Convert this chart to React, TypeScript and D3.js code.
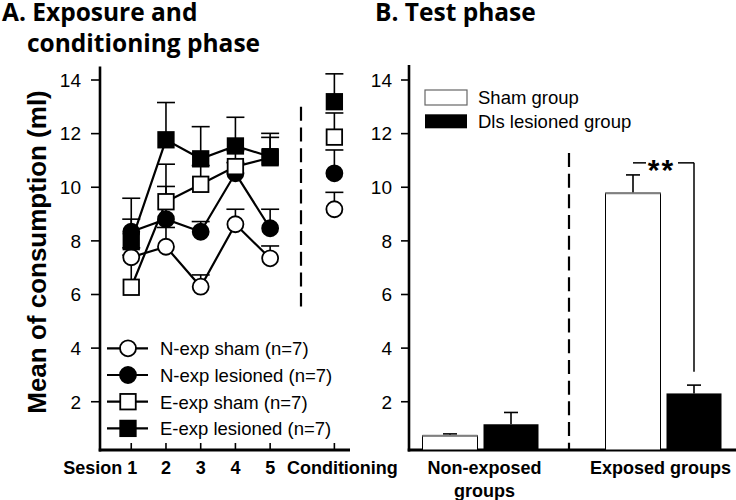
import React from "react";
import * as d3 from "d3";

// ---- Data ----
const sessionLabels = ["Sesion 1", "2", "3", "4", "5", "Conditioning"];
const sessionPos = [1, 2, 3, 4, 5, 6.85];

const nExpSham = [7.39, 7.78, 6.29, 8.62, 7.35, 9.18];
const nExpShamErr = [0.35, 0.72, 0.44, 0.56, 0.46, 0.63];
const nExpLes = [8.34, 8.81, 8.34, 10.52, 8.47, 10.52];
const nExpLesErr = [0.47, 1.22, 0.38, 0.4, 0.71, 0.87];
const eExpSham = [6.27, 9.46, 10.11, 10.77, 11.1, 11.87];
const eExpShamErr = [1.2, 1.4, 0.7, 0.6, 0.76, 0.9];
const eExpLes = [7.97, 11.77, 11.06, 11.54, 11.14, 13.19];
const eExpLesErr = [1.62, 1.39, 1.2, 1.07, 0.87, 1.04];

const seriesNames = [
  "N-exp sham (n=7)",
  "N-exp lesioned (n=7)",
  "E-exp sham (n=7)",
  "E-exp lesioned (n=7)",
];

const groups = ["Non-exposed groups", "Exposed groups"];
const groupLines = [["Non-exposed", "groups"], ["Exposed groups"]];
const shamMeans = [0.73, 9.78];
const shamErr = [0.07, 0.68];
const lesMeans = [1.16, 2.31];
const lesErr = [0.44, 0.31];
const barLegend = ["Sham group", "Dls lesioned group"];

const yTicks = [2, 4, 6, 8, 10, 12, 14];

const FONT = "'Liberation Sans', Arial, sans-serif";
const TITLE_FONT = "'Open Sans', sans-serif";

type Series = {
  name: string;
  vals: number[];
  err: number[];
  shape: "circle" | "square";
  fill: string;
};

const series: Series[] = [
  { name: seriesNames[0], vals: nExpSham, err: nExpShamErr, shape: "circle", fill: "#fff" },
  { name: seriesNames[1], vals: nExpLes, err: nExpLesErr, shape: "circle", fill: "#000" },
  { name: seriesNames[2], vals: eExpSham, err: eExpShamErr, shape: "square", fill: "#fff" },
  { name: seriesNames[3], vals: eExpLes, err: eExpLesErr, shape: "square", fill: "#000" },
];

function Marker({ x, y, shape, fill }: { x: number; y: number; shape: string; fill: string }) {
  if (shape === "circle") {
    return <circle cx={x} cy={y} r={8} fill={fill} stroke="#000" strokeWidth={1.8} />;
  }
  const s = 15.5;
  return <rect x={x - s / 2} y={y - s / 2} width={s} height={s} fill={fill} stroke="#000" strokeWidth={1.8} />;
}

export default function App() {
  const y = d3.scaleLinear().domain([0.2, 14.5]).range([450, 66.6]);
  const xL = d3.scaleLinear().domain([0.1, 7.3]).range([100, 350]);
  const xB = d3.scaleBand<string>().domain(groups).range([389, 755]);
  const barW = 55;
  const lineGen = d3
    .line<number>()
    .x((_, i) => xL(sessionPos[i]))
    .y((d) => y(d));

  const y0 = y(0.2);

  const errBar = (cx: number, v: number, e: number, cap: number, key: string) => (
    <g key={key}>
      <line x1={cx} x2={cx} y1={y(v)} y2={y(v + e)} stroke="#000" strokeWidth={1.6} />
      <line x1={cx - cap / 2} x2={cx + cap / 2} y1={y(v + e)} y2={y(v + e)} stroke="#000" strokeWidth={1.6} />
    </g>
  );

  const expCenter = (xB("Exposed groups") as number) + xB.bandwidth() / 2;
  const shamX = (i: number) => (xB(groups[i]) as number) + xB.bandwidth() / 2 - 58;
  const lesX = (i: number) => (xB(groups[i]) as number) + xB.bandwidth() / 2 + 3;
  const bracketY = y(shamMeans[1] + shamErr[1] + 0.45);

  return (
    <svg width={736} height={500} style={{ position: "absolute", left: 0, top: 0, background: "#fff" }}>
      {/* Titles */}
      <text x={2} y={21} fontFamily={TITLE_FONT} fontWeight={700} fontSize={24.5}>A. Exposure and</text>
      <text x={27} y={52} fontFamily={TITLE_FONT} fontWeight={700} fontSize={24.5}>conditioning phase</text>
      <text x={375} y={21} fontFamily={TITLE_FONT} fontWeight={700} fontSize={24.5}>B. Test phase</text>

      {/* Y axis title */}
      <text
        transform={`translate(46,252) rotate(-90)`}
        textAnchor="middle"
        fontFamily={FONT}
        fontWeight={700}
        fontSize={26}
      >
        Mean of consumption (ml)
      </text>

      {/* ---------- Left panel ---------- */}
      <line x1={100} x2={100} y1={y.range()[1]} y2={451.5} stroke="#000" strokeWidth={2.6} />
      <line x1={98.7} x2={350} y1={450} y2={450} stroke="#000" strokeWidth={2.8} />
      {yTicks.map((t) => (
        <g key={"lt" + t}>
          <line x1={91} x2={100} y1={y(t)} y2={y(t)} stroke="#000" strokeWidth={1.6} />
          <text x={81} y={y(t)} dy="0.36em" textAnchor="end" fontFamily={FONT} fontSize={19}>{t}</text>
        </g>
      ))}
      {sessionPos.map((p, i) => (
        <g key={"xt" + i}>
          <line x1={xL(p)} x2={xL(p)} y1={450} y2={443} stroke="#000" strokeWidth={1.6} />
          <text
            x={xL(p) + (i === 0 ? 6 : i === sessionPos.length - 1 ? 8 : 0)}
            y={473.5}
            textAnchor={i === 0 ? "end" : "middle"}
            fontFamily={FONT}
            fontWeight={700}
            fontSize={18}
          >
            {sessionLabels[i]}
          </text>
        </g>
      ))}

      {/* dashed separator left */}
      <line x1={301} x2={301} y1={y(13.0)} y2={y(5.55)} stroke="#000" strokeWidth={2.2} strokeDasharray="14 6.7" />

      {/* lines (sessions only) */}
      {series.map((s, si) => (
        <path key={"ln" + si} d={lineGen(s.vals.slice(0, 5)) || ""} fill="none" stroke="#000" strokeWidth={2.2} />
      ))}
      {/* error bars + markers */}
      {series.map((s, si) => (
        <g key={"sr" + si}>
          {s.vals.map((v, i) => errBar(xL(sessionPos[i]), v, s.err[i], 18, `e${si}-${i}`))}
        </g>
      ))}
      {series.map((s, si) => (
        <g key={"mk" + si}>
          {s.vals.map((v, i) => (
            <Marker key={i} x={xL(sessionPos[i])} y={y(v)} shape={s.shape} fill={s.fill} />
          ))}
        </g>
      ))}

      {/* Left legend */}
      {series.map((s, si) => {
        const cy = 348.3 + si * 26.7;
        return (
          <g key={"lg" + si}>
            <line x1={107} x2={148} y1={cy} y2={cy} stroke="#000" strokeWidth={2.2} />
            <Marker x={128} y={cy} shape={s.shape} fill={s.fill} />
            <text x={160} y={cy + 7} fontFamily={FONT} fontSize={18.5}>{s.name}</text>
          </g>
        );
      })}

      {/* ---------- Right panel ---------- */}
      <line x1={409} x2={409} y1={65} y2={451.5} stroke="#000" strokeWidth={2.6} />
      <line x1={407.7} x2={736} y1={450} y2={450} stroke="#000" strokeWidth={2.8} />
      {yTicks.map((t) => (
        <g key={"rt" + t}>
          <line x1={401} x2={409} y1={y(t)} y2={y(t)} stroke="#000" strokeWidth={1.6} />
          <text x={392} y={y(t)} dy="0.36em" textAnchor="end" fontFamily={FONT} fontSize={19}>{t}</text>
        </g>
      ))}

      {/* dashed separator right */}
      <line x1={expCenter - xB.bandwidth() / 2 - 3} x2={expCenter - xB.bandwidth() / 2 - 3} y1={y(11.28)} y2={449} stroke="#000" strokeWidth={2.2} strokeDasharray="14 6.7" />

      {/* bars */}
      {groups.map((g, i) => (
        <g key={"bar" + g}>
          {errBar(shamX(i) + barW / 2, shamMeans[i], shamErr[i], 14, "se" + i)}
          {errBar(lesX(i) + barW / 2, lesMeans[i], lesErr[i], 14, "le" + i)}
          <rect x={shamX(i)} y={y(shamMeans[i])} width={barW} height={y0 - y(shamMeans[i])} fill="#fff" stroke="#000" strokeWidth={1} />
          <line x1={shamX(i)} x2={shamX(i) + barW} y1={y(shamMeans[i])} y2={y(shamMeans[i])} stroke="#808080" strokeWidth={2} />
          <rect x={lesX(i)} y={y(lesMeans[i])} width={barW} height={y0 - y(lesMeans[i])} fill="#000" />
        </g>
      ))}

      {/* significance bracket */}
      <line x1={shamX(1) + barW / 2} x2={shamX(1) + barW / 2 + 13} y1={bracketY} y2={bracketY} stroke="#000" strokeWidth={1.5} />
      <line x1={lesX(1) + barW / 2 - 16} x2={lesX(1) + barW / 2} y1={bracketY} y2={bracketY} stroke="#000" strokeWidth={1.5} />
      <line x1={lesX(1) + barW / 2} x2={lesX(1) + barW / 2} y1={bracketY} y2={y(lesMeans[1] + lesErr[1] + 0.5)} stroke="#000" strokeWidth={1.5} />
      <text x={(shamX(1) + lesX(1)) / 2 + barW / 2 - 2} y={bracketY + 17} textAnchor="middle" fontFamily={FONT} fontWeight={700} fontSize={30} letterSpacing={2}>**</text>

      {/* right legend */}
      <rect x={425} y={90} width={42} height={15} fill="#fff" stroke="#666" strokeWidth={1.2} />
      <rect x={425} y={114.3} width={42} height={14} fill="#000" />
      <text x={478} y={104} fontFamily={FONT} fontSize={18.5}>{barLegend[0]}</text>
      <text x={478} y={127.5} fontFamily={FONT} fontSize={18.5}>{barLegend[1]}</text>

      {/* group labels */}
      {groups.map((g, i) => (
        <text key={"gl" + g} textAnchor="middle" fontFamily={FONT} fontWeight={700} fontSize={18}>
          {groupLines[i].map((ln, j) => (
            <tspan key={j} x={(xB(g) as number) + xB.bandwidth() / 2 + (i === 0 ? 4 : -3)} y={473.5 + j * 23}>{ln}</tspan>
          ))}
        </text>
      ))}
    </svg>
  );
}
